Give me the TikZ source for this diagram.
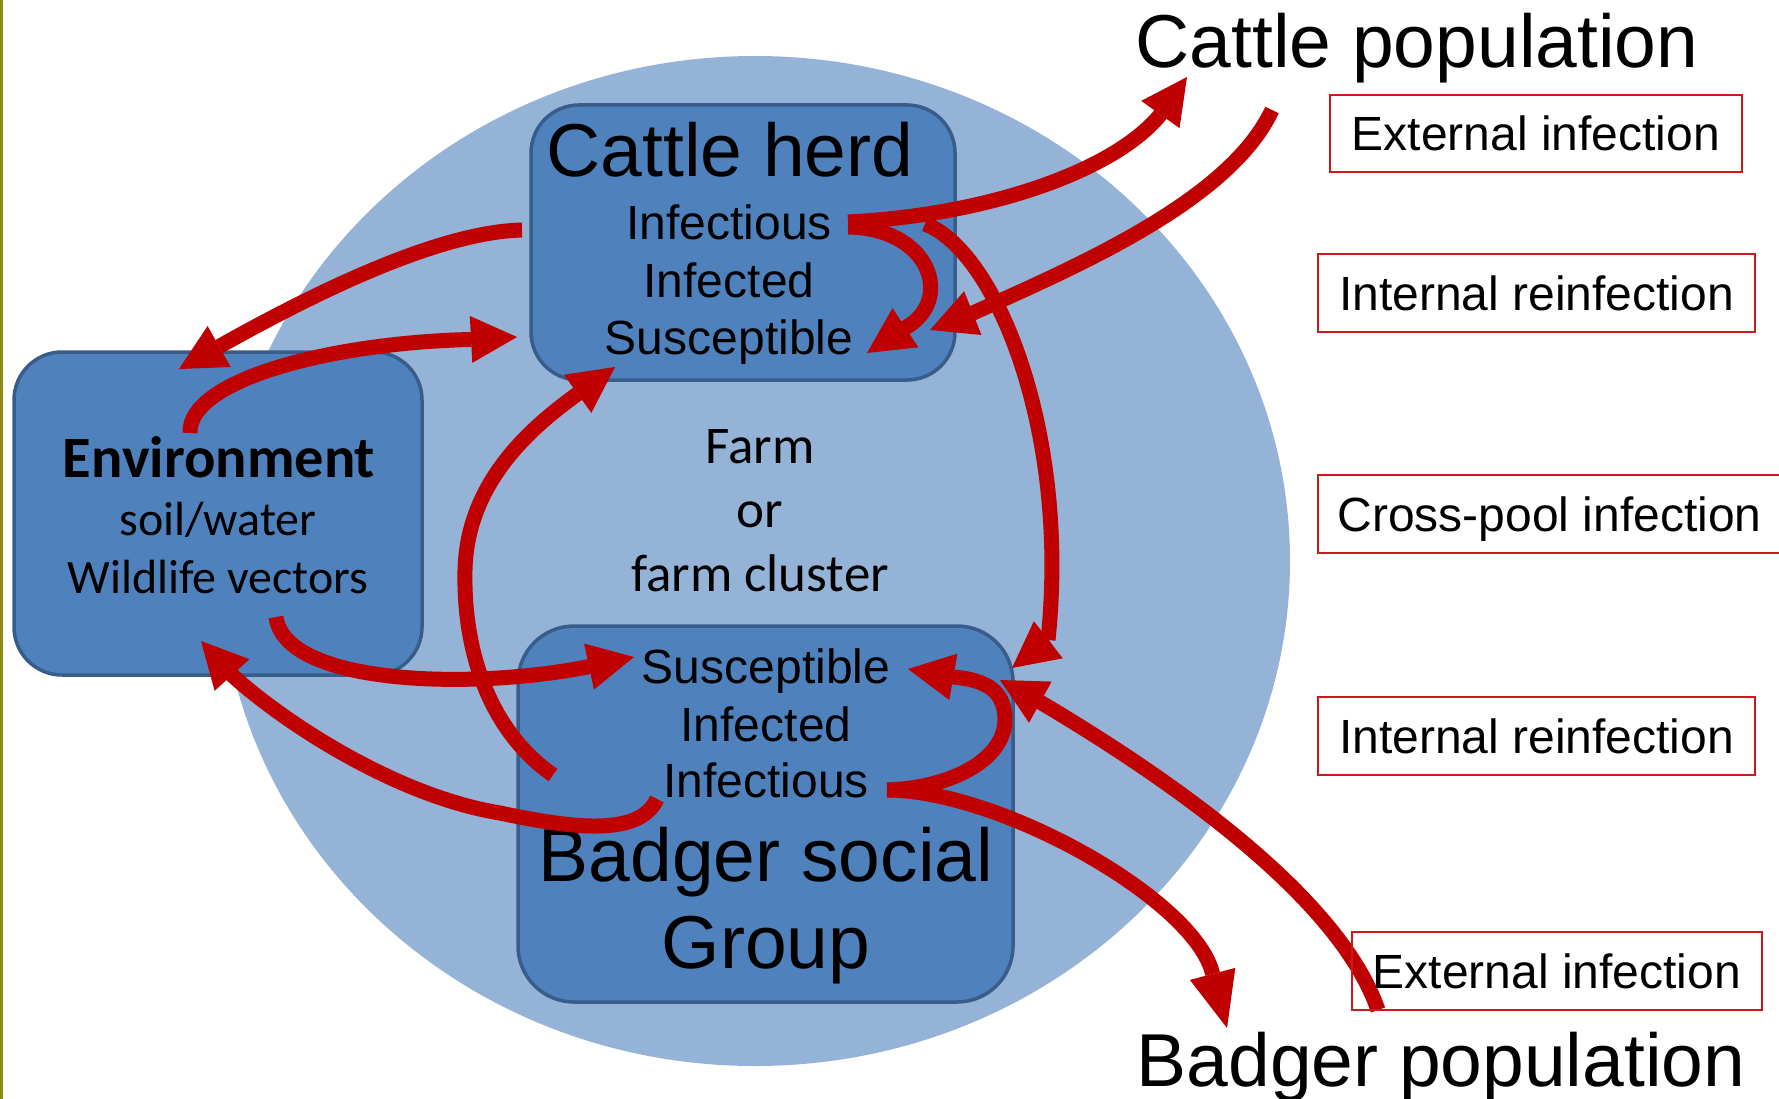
\documentclass[tikz,border=0pt]{standalone}
\usepackage{fontspec}
\setmainfont{Liberation Sans}
\newfontfamily\arialf{Liberation Sans}
\newfontfamily\calf{Carlito}
\usetikzlibrary{arrows.meta,shapes.geometric}
\definecolor{farmblue}{RGB}{149,179,215}
\definecolor{boxblue}{RGB}{79,129,189}
\definecolor{boxedge}{RGB}{56,93,138}
\definecolor{arrred}{RGB}{192,0,0}
\definecolor{lblred}{RGB}{205,25,30}
\definecolor{olivec}{RGB}{140,140,20}
\tikzset{
  farmshape/.style={ellipse, fill=farmblue, draw=none, inner sep=0pt},
  poolbox/.style={rectangle, rounded corners=#1, fill=boxblue, draw=boxedge, line width=3.5pt, inner sep=0pt},
  bigtxt/.style={anchor=base, inner sep=0pt, font=\arialf\fontsize{75}{90}\selectfont},
  midtxt/.style={anchor=base, inner sep=0pt, font=\arialf\fontsize{48}{57}\selectfont},
  envbold/.style={anchor=base, inner sep=0pt, font=\calf\bfseries\fontsize{58.5}{70}\selectfont},
  envtxt/.style={anchor=base, inner sep=0pt, font=\calf\fontsize{48}{57}\selectfont},
  farmtxt/.style={anchor=base, inner sep=0pt, font=\calf\fontsize{53}{63}\selectfont},
  lblbox/.style={rectangle, draw=lblred, line width=2.5pt, inner sep=0pt, text height=34.4pt, text depth=0pt, font=\arialf\fontsize{48}{57}\selectfont},
  flow/.style={draw=arrred, line width=15pt, -{Triangle[length=46pt,width=47pt,line width=0pt]}},
  longflow/.style={draw=arrred, line width=15pt, -{Triangle[length=56pt,width=47pt,line width=0pt]}},
}
\begin{document}
\begin{tikzpicture}[x=1pt,y=-1pt]
\useasboundingbox (0,0) rectangle (1779,1099);
\fill[olivec] (0,0) rectangle (2.5,1099);

% farm background
\node[farmshape, minimum width=1070pt, minimum height=1010pt] (farm) at (755,561) {};

% pools
\node[poolbox=48pt, minimum width=424pt, minimum height=275pt] (herd) at (743,242.5) {};
\node[poolbox=48pt, minimum width=408pt, minimum height=323pt] (env) at (218,513.5) {};
\node[poolbox=56pt, minimum width=495pt, minimum height=376pt] (sett) at (765.5,814) {};

% cattle herd text
\node[bigtxt] (herdT) at (730,177) {Cattle herd};
\node[midtxt] (hInfs) at (729,240) {Infectious};
\node[midtxt] (hInfd) at (729,298) {Infected};
\node[midtxt] (hSus) at (729,354) {Susceptible};

% environment text
\node[envbold] (envT) at (219,477) {Environment};
\node[envtxt] (envS) at (218,535) {soil/water};
\node[envtxt] (envW) at (218,593) {Wildlife vectors};

% farm text
\node[farmtxt] (farm1) at (760,463) {Farm};
\node[farmtxt] (farm2) at (760,527) {or};
\node[farmtxt] (farm3) at (760,591) {farm cluster};

% badger group text
\node[midtxt] (bSus) at (766,683) {Susceptible};
\node[midtxt] (bInfd) at (766,741) {Infected};
\node[midtxt] (bInfs) at (766,797) {Infectious};
\node[bigtxt] (bT1) at (766,881) {Badger social};
\node[bigtxt] (bT2) at (766,968) {Group};

% populations
\node[bigtxt] (cpop) at (1417,68) {Cattle population};
\node[bigtxt] (bpop) at (1441,1086) {Badger population};

% connector end points
\coordinate (a1s) at (522,230);  \coordinate (a1b) at (220,346);  \coordinate (a1t) at (179,369);
\coordinate (a2s) at (190,433);  \coordinate (a2b) at (469.5,339.5); \coordinate (a2t) at (517,337);
\coordinate (a3s) at (553,775);  \coordinate (a3b) at (576,395);  \coordinate (a3t) at (615,367);
\coordinate (a4s) at (276,617);  \coordinate (a4b) at (587,667);  \coordinate (a4t) at (634,657);
\coordinate (a5s) at (657,799);  \coordinate (a5b) at (232,675);  \coordinate (a5t) at (201,641);
\coordinate (a6s) at (848,227);  \coordinate (a6b) at (905,328);  \coordinate (a6t) at (867,353);
\coordinate (a7s) at (848,222);  \coordinate (a7b) at (1160,115); \coordinate (a7t) at (1187,77);
\coordinate (a8s) at (925,224);  \coordinate (a8b) at (1048,640); \coordinate (a8t) at (1012,668);
\coordinate (a9s) at (1272,110); \coordinate (a9b) at (973,313);  \coordinate (a9t) at (930,330);
\coordinate (a10s) at (887,790); \coordinate (a10b) at (954,677); \coordinate (a10t) at (908,669);
\coordinate (a11s) at (887,790); \coordinate (a11b) at (1212.5,973.5); \coordinate (a11t) at (1227,1028);
\coordinate (a12s) at (1378,1010); \coordinate (a12b) at (1040,702); \coordinate (a12t) at (1000,680);

% flows
\draw[flow] (a1s) .. controls (440,232) and (320,290) .. (a1b) -- (a1t);
\draw[flow] (a2s) .. controls (188,380) and (330,343) .. (a2b) -- (a2t);
\draw[flow] (a3s) .. controls (495,735) and (463,660) .. (465,570) .. controls (467,480) and (535,425) .. (a3b) -- (a3t);
\draw[flow] (a4s) .. controls (285,685) and (470,690) .. (a4b) -- (a4t);
\draw[flow] (a5s) .. controls (640,835) and (580,830) .. (500,813) .. controls (390,795) and (275,715) .. (a5b) -- (a5t);
\draw[flow] (a6s) .. controls (930,228) and (955,300) .. (a6b) -- (a6t);
\draw[flow] (a7s) .. controls (990,215) and (1115,170) .. (a7b) -- (a7t);
\draw[flow] (a8s) .. controls (995,250) and (1070,430) .. (a8b) -- (a8t);
\draw[flow] (a9s) .. controls (1230,200) and (1080,265) .. (a9b) -- (a9t);
\draw[flow] (a10s) .. controls (950,788) and (1006,760) .. (1005,718) .. controls (1004,690) and (985,680) .. (a10b) -- (a10t);
\draw[longflow] (a11s) .. controls (1000,790) and (1195,900) .. (a11b) -- (a11t);
\draw[flow] (a12s) .. controls (1340,900) and (1180,785) .. (a12b) -- (a12t);

% labels
\node[lblbox, minimum width=412pt, minimum height=77pt] (ext1) at (1536,133.5) {External infection};
\node[lblbox, minimum width=437pt, minimum height=78pt] (int1) at (1536.5,293) {Internal reinfection};
\node[lblbox, minimum width=463pt, minimum height=78pt] (cross) at (1549.5,514) {Cross-pool infection};
\node[lblbox, minimum width=437pt, minimum height=78pt] (int2) at (1536.5,736) {Internal reinfection};
\node[lblbox, minimum width=410pt, minimum height=78pt] (ext2) at (1557,971) {External infection};
\end{tikzpicture}
\end{document}
